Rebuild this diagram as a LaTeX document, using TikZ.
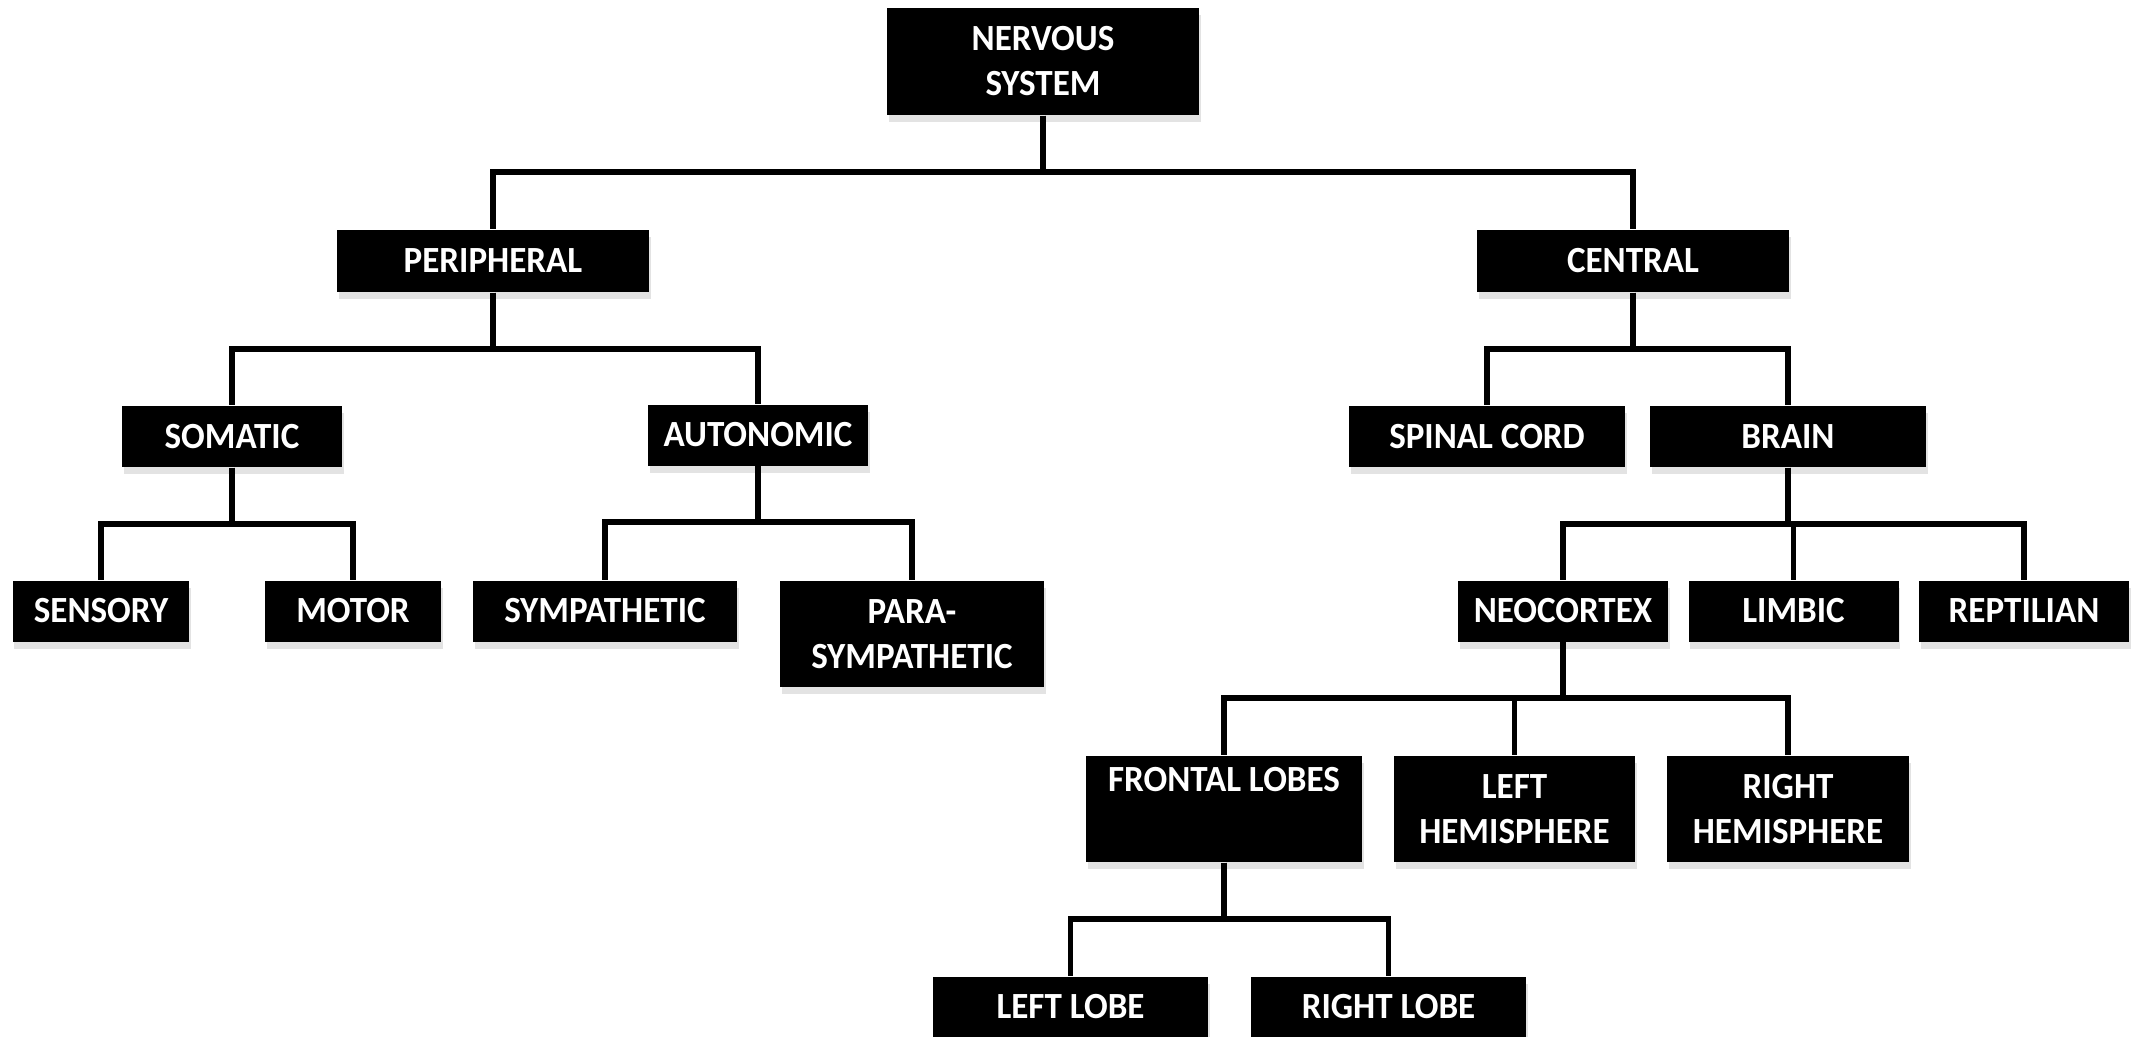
\documentclass[tikz,border=0pt]{standalone}
\usepackage{fontspec}
\setmainfont[FakeStretch=0.95]{Carlito}
\usetikzlibrary{shadows}

\begin{document}
\begin{tikzpicture}[font=\bfseries\fontsize{10.5}{12.8}\selectfont,
  box/.style={fill=black,text=white,align=center,inner sep=0pt,
    drop shadow={shadow xshift=0.15mm,shadow yshift=-0.7mm,opacity=0.22}},
  link/.style={line width=1.6pt}]

\useasboundingbox (0,0) rectangle (21.36,-10.36);

% top two levels
\node[box,minimum width=3.12cm,minimum height=1.07cm] (ns) at (10.43,-0.615) {NERVOUS\\SYSTEM};
\node[box,minimum width=3.12cm,minimum height=0.62cm] (per) at (4.93,-2.61) {PERIPHERAL};
\node[box,minimum width=3.12cm,minimum height=0.62cm] (cen) at (16.33,-2.61) {CENTRAL};

% peripheral side
\begin{scope}[every node/.append style={minimum height=0.61cm}]
\node[box,minimum width=2.2cm] (som) at (2.32,-4.365) {SOMATIC};
\node[box,minimum width=2.2cm] (aut) at (7.58,-4.35) {AUTONOMIC};
\node[box,minimum width=1.76cm] (sen) at (1.01,-6.11) {SENSORY};
\node[box,minimum width=1.76cm] (mot) at (3.53,-6.11) {MOTOR};
\node[box,minimum width=2.64cm] (sym) at (6.05,-6.11) {SYMPATHETIC};
\end{scope}
\node[box,minimum width=2.64cm,minimum height=1.06cm] (psy) at (9.12,-6.34) {PARA-\\SYMPATHETIC};

% central side
\begin{scope}[every node/.append style={minimum height=0.61cm}]
\node[box,minimum width=2.76cm] (spc) at (14.87,-4.365) {SPINAL CORD};
\node[box,minimum width=2.76cm] (brn) at (17.88,-4.365) {BRAIN};
\node[box,minimum width=2.1cm] (neo) at (15.63,-6.11) {NEOCORTEX};
\node[box,minimum width=2.1cm] (lim) at (17.935,-6.11) {LIMBIC};
\node[box,minimum width=2.1cm] (rep) at (20.24,-6.11) {REPTILIAN};
\node[box,minimum width=2.75cm] (llo) at (10.705,-10.07) {LEFT LOBE};
\node[box,minimum width=2.75cm] (rlo) at (13.885,-10.07) {RIGHT LOBE};
\end{scope}
\begin{scope}[every node/.append style={minimum height=1.06cm}]
\node[box,minimum width=2.76cm] (fro) at (12.24,-8.09) {FRONTAL LOBES\\\strut};
\node[box,minimum width=2.41cm] (lhe) at (15.145,-8.09) {LEFT\\HEMISPHERE};
\node[box,minimum width=2.42cm] (rhe) at (17.88,-8.09) {RIGHT\\HEMISPHERE};
\end{scope}

\foreach \p/\c in {ns/per,ns/cen,per/som,per/aut,som/sen,som/mot,aut/sym,aut/psy,
  cen/spc,cen/brn,brn/neo,brn/lim,brn/rep,neo/fro,neo/lhe,neo/rhe,fro/llo,fro/rlo}
  \draw[link] (\p.south) -- ++(0,-0.56) -| (\c.north);

\end{tikzpicture}
\end{document}
